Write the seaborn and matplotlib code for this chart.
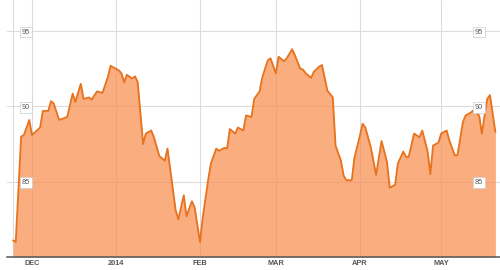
import matplotlib
matplotlib.use("Agg")
import matplotlib.pyplot as plt
import matplotlib.dates as mdates
import seaborn as sns
import pandas as pd

# ---- data ----
dates = ["2013-11-24","2013-11-25","2013-11-27","2013-11-28","2013-11-30",
         "2013-12-01","2013-12-04","2013-12-05","2013-12-07","2013-12-08","2013-12-09","2013-12-11",
         "2013-12-14","2013-12-16","2013-12-17","2013-12-19","2013-12-20","2013-12-22","2013-12-23",
         "2013-12-25","2013-12-27","2013-12-29","2013-12-30",
         "2014-01-02","2014-01-03","2014-01-04","2014-01-05","2014-01-07","2014-01-08","2014-01-09",
         "2014-01-11","2014-01-12","2014-01-14","2014-01-15","2014-01-17","2014-01-19","2014-01-20",
         "2014-01-23","2014-01-24","2014-01-26","2014-01-27","2014-01-29","2014-01-30",
         "2014-02-01","2014-02-02","2014-02-04","2014-02-05","2014-02-07","2014-02-08","2014-02-10",
         "2014-02-11","2014-02-12","2014-02-14","2014-02-15","2014-02-17","2014-02-18","2014-02-20",
         "2014-02-21","2014-02-23","2014-02-24","2014-02-26","2014-02-27",
         "2014-03-01","2014-03-02","2014-03-04","2014-03-05","2014-03-07","2014-03-08","2014-03-10",
         "2014-03-11","2014-03-12","2014-03-14","2014-03-15","2014-03-17","2014-03-18","2014-03-20",
         "2014-03-22","2014-03-23","2014-03-25","2014-03-26","2014-03-27","2014-03-29","2014-03-30",
         "2014-04-01","2014-04-02","2014-04-03","2014-04-05","2014-04-07","2014-04-08","2014-04-09",
         "2014-04-11","2014-04-12","2014-04-14","2014-04-15","2014-04-17","2014-04-18","2014-04-19",
         "2014-04-21","2014-04-23","2014-04-24","2014-04-26","2014-04-27","2014-04-28","2014-04-30",
         "2014-05-01","2014-05-03","2014-05-04","2014-05-06","2014-05-07","2014-05-09","2014-05-10",
         "2014-05-12","2014-05-13","2014-05-15","2014-05-16","2014-05-18","2014-05-19","2014-05-21"]

values = [81.1, 81.0, 88.0, 88.1, 89.1, 88.1, 88.6, 89.7, 89.7, 90.35,
          90.2, 89.1, 89.3, 90.85, 90.3, 91.5, 90.5, 90.6, 90.45, 91.0,
          90.9, 91.95, 92.7, 92.4, 92.2, 91.6, 92.1, 91.85, 92.0, 91.6,
          87.5, 88.2, 88.4, 87.95, 86.7, 86.4, 87.2, 83.1, 82.5, 84.1,
          82.7, 83.7, 83.3, 81.0, 82.6, 85.1, 86.2, 87.2, 87.05, 87.25,
          87.2, 88.5, 88.2, 88.6, 88.4, 89.4, 89.3, 90.5, 91.0, 91.95,
          93.05, 93.2, 92.2, 93.3, 93.0, 93.2, 93.8, 93.4, 92.5, 92.45,
          92.2, 91.9, 92.3, 92.65, 92.75, 91.05, 90.6, 87.4, 86.4, 85.4,
          85.1, 85.1, 86.6, 88.05, 88.85, 88.6, 87.3, 85.45, 86.6, 87.7,
          86.3, 84.6, 84.8, 86.2, 87.0, 86.65, 86.65, 88.2, 87.95, 88.4,
          87.0, 85.5, 87.4, 87.6, 88.2, 88.4, 87.75, 86.75, 86.75, 88.95,
          89.4, 89.6, 89.75, 89.4, 88.2, 90.5, 90.75, 88.3]

month_ticks = ["2013-12-01", "2014-01-01", "2014-02-01", "2014-03-01", "2014-04-01", "2014-05-01"]
month_labels = ["DEC", "2014", "FEB", "MAR", "APR", "MAY"]
y_ticks = [85, 90, 95]
y_labels = ["85", "90", "95"]
y_floor = 80

df = pd.DataFrame({"date": pd.to_datetime(dates), "value": values})

# ---- styling ----
sns.set_theme(style="white")
plt.rcParams["font.family"] = ["Liberation Sans", "DejaVu Sans"]

line_color = "#E8731F"
fill_color = "#F98C4B"
grid_color = "#dcdcdc"
label_color = "#555555"

fig = plt.figure(figsize=(5, 2.7), dpi=100)
ax = fig.add_axes([7 / 500, 13 / 270, 493 / 500, 257 / 270])

ax.fill_between(df["date"], df["value"], y_floor, color=fill_color, alpha=0.7, linewidth=0, zorder=1)
sns.lineplot(data=df, x="date", y="value", ax=ax, color=line_color, linewidth=1.35, zorder=3)
ax.axvline(df["date"].iloc[0], color=grid_color, linewidth=0.8, zorder=0)

ref = pd.Timestamp("2013-12-01")
ax.set_xlim(mdates.date2num(ref - pd.Timedelta(days=9.23)), mdates.date2num(ref + pd.Timedelta(days=172.7)))
ax.set_ylim(y_floor, 97.07)

ax.set_xticks(pd.to_datetime(month_ticks))
ax.set_xticklabels(month_labels, fontsize=5.3, fontweight="bold", color=label_color)
ax.tick_params(axis="x", length=0, pad=2.5)

ax.set_yticks(y_ticks)
ax.tick_params(axis="y", length=0, labelleft=False)

ax.grid(True, color=grid_color, linewidth=0.8)
ax.set_axisbelow(True)
ax.set_xlabel("")
ax.set_ylabel("")
for side in ["top", "left", "right"]:
    ax.spines[side].set_visible(False)
ax.spines["bottom"].set_color("#555555")
ax.spines["bottom"].set_linewidth(1.1)

box = dict(facecolor="white", edgecolor="#cccccc", boxstyle="square,pad=0.25", linewidth=0.5)

# left value labels (drawn on an overlay so they sit above the fill)
axl = ax.twinx()
axl.set_ylim(ax.get_ylim())
axl.yaxis.tick_left()
axl.set_yticks(y_ticks)
axl.set_yticklabels(y_labels, fontsize=5.2, color=label_color)
axl.tick_params(axis="y", length=0, pad=-16.5)

# right value labels
axr = ax.twinx()
axr.set_ylim(ax.get_ylim())
axr.set_yticks(y_ticks)
axr.set_yticklabels(y_labels, fontsize=5.2, color=label_color)
axr.tick_params(axis="y", length=0, pad=-18.3)

for a in (axl, axr):
    a.grid(False)
    for side in ["top", "left", "right", "bottom"]:
        a.spines[side].set_visible(False)
    for lbl in a.get_yticklabels():
        lbl.set_bbox(box)

fig.savefig("out.png", dpi=100)
